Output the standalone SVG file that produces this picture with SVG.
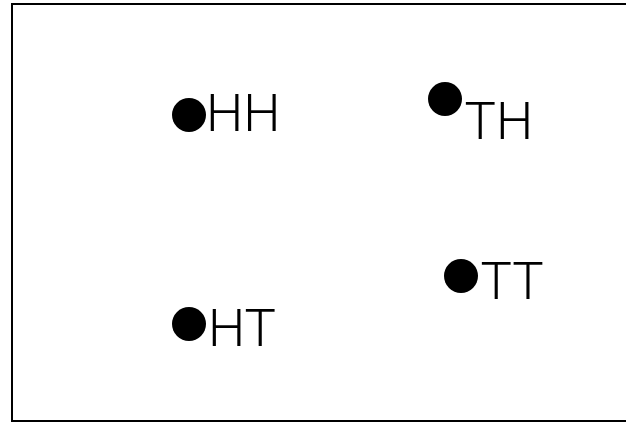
<svg xmlns="http://www.w3.org/2000/svg" width="626" height="422" viewBox="0 0 626 422">
<style>
.dot{fill:#000}
.lbl{font-family:Roboto,"Liberation Sans",sans-serif;font-weight:300;font-size:52.6px;fill:#000}
</style>
<rect x="0" y="0" width="626" height="422" fill="#fff"/>
<rect x="12" y="4" width="620" height="417" fill="none" stroke="#000" stroke-width="2"/>
<g id="connectors"></g>
<g id="HH"><circle class="dot" cx="189" cy="115" r="17"/><text class="lbl" x="206" y="131">HH</text></g>
<g id="TH"><circle class="dot" cx="445" cy="99" r="17"/><text class="lbl" x="464.5" y="139">TH</text></g>
<g id="HT"><circle class="dot" cx="189" cy="324" r="17"/><text class="lbl" x="208" y="346">HT</text></g>
<g id="TT"><circle class="dot" cx="461" cy="276" r="17"/><text class="lbl" x="480.5" y="299">TT</text></g>
</svg>
